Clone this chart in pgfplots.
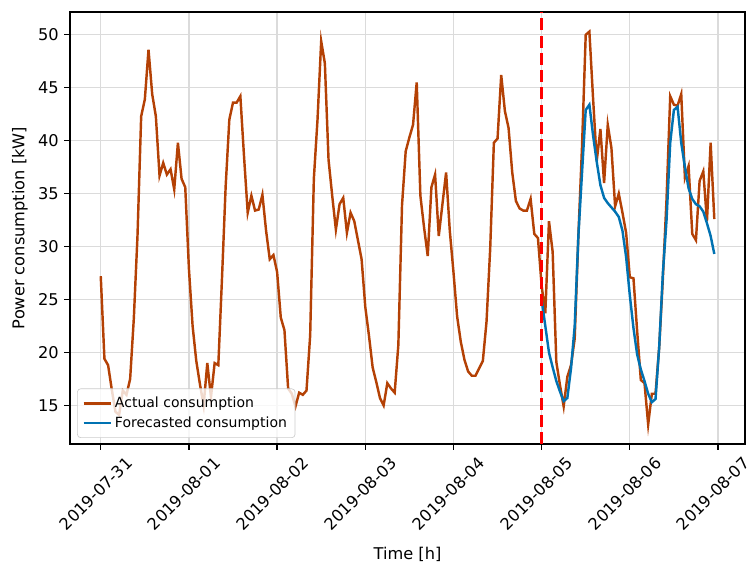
\documentclass[border=0pt]{standalone}
\usepackage{fontspec}
\setmainfont{DejaVu Sans}
\usepackage{pgfplots}
\pgfplotsset{compat=1.18}
\usepackage{pgfplotstable}
\usetikzlibrary{calc}
\definecolor{actual}{RGB}{180,65,5}
\definecolor{fcast}{RGB}{0,114,178}

\pgfplotstableread{
h actual
0 27.2
1 19.4
2 18.8
3 16.5
4 14.4
5 14.1
6 16.4
7 16.0
8 17.5
9 23.2
10 31.0
11 42.3
12 43.9
13 48.6
14 44.4
15 42.3
16 36.7
17 37.9
18 36.8
19 37.3
20 35.4
21 39.8
22 36.4
23 35.6
24 27.9
25 22.5
26 19.2
27 17.0
28 15.0
29 19.0
30 15.8
31 19.0
32 18.8
33 27.0
34 35.7
35 42.0
36 43.6
37 43.6
38 44.2
39 38.5
40 33.2
41 34.8
42 33.4
43 33.5
44 34.9
45 31.5
46 28.8
47 29.2
48 27.6
49 23.3
50 22.1
51 16.6
52 16.1
53 14.9
54 16.2
55 16.0
56 16.4
57 21.6
58 36.4
59 42.0
60 49.4
61 47.3
62 38.2
63 34.8
64 31.6
65 34.0
66 34.6
67 31.3
68 33.2
69 32.4
70 30.6
71 28.8
72 24.3
73 21.6
74 18.6
75 17.2
76 15.7
77 15.0
78 17.1
79 16.6
80 16.2
81 20.7
82 33.9
83 39.0
84 40.3
85 41.5
86 45.5
87 34.8
88 31.8
89 29.1
90 35.6
91 36.8
92 31.0
93 34.0
94 37.0
95 31.5
96 27.6
97 23.4
98 21.0
99 19.3
100 18.2
101 17.8
102 17.8
103 18.5
104 19.2
105 22.9
106 29.8
107 39.8
108 40.2
109 46.2
110 42.8
111 41.2
112 37.0
113 34.3
114 33.6
115 33.4
116 33.4
117 34.5
118 31.2
119 30.8
120 26.3
121 23.7
122 32.4
123 29.5
124 19.1
125 16.9
126 14.9
127 17.7
128 18.8
129 21.3
130 31.0
131 39.5
132 50.0
133 50.3
134 44.0
135 38.1
136 41.1
137 36.0
138 41.5
139 39.3
140 33.8
141 35.0
142 33.2
143 31.3
144 27.1
145 27.0
146 22.0
147 17.4
148 17.1
149 13.2
150 16.1
151 16.1
152 20.5
153 27.0
154 34.5
155 44.2
156 43.4
157 43.3
158 44.4
159 36.5
160 37.6
161 31.2
162 30.6
163 36.2
164 37.1
165 32.4
166 39.8
167 32.6
}\actualtable

\pgfplotstableread{
h fc
120 25.0
121 22.5
122 20.0
123 18.6
124 17.3
125 16.3
126 15.4
127 15.7
128 18.5
129 22.5
130 31.0
131 37.0
132 42.9
133 43.4
134 40.5
135 38.0
136 35.8
137 34.6
138 34.1
139 33.7
140 33.3
141 32.8
142 31.5
143 29.0
144 25.4
145 22.3
146 19.8
147 18.4
148 17.3
149 16.1
150 15.3
151 15.6
152 20.5
153 27.5
154 32.5
155 39.8
156 42.9
157 43.2
158 39.8
159 37.5
160 35.5
161 34.5
162 34.0
163 33.8
164 33.3
165 32.2
166 31.0
167 29.3
}\fctable

\begin{document}
\begin{tikzpicture}
\begin{axis}[name=ax,
  scale only axis, width=415.1bp, height=265.7bp,
  xmin=-8.35, xmax=175.35, ymin=11.35, ymax=52.15,
  xtick={0,24,48,72,96,120,144,168},
  xticklabels={2019-07-31,2019-08-01,2019-08-02,2019-08-03,2019-08-04,2019-08-05,2019-08-06,2019-08-07},
  ytick={15,20,25,30,35,40,45,50},
  tick align=outside, xtick pos=bottom, ytick pos=left,
  major tick length=3.5bp,
  tick style={black, line width=0.8bp},
  axis line style={line width=0.8bp},
  grid=major, major grid style={black!14, line width=0.8bp},
  /pgf/number format/assume math mode=true,
  xticklabel style={xshift=-3bp, yshift=-27bp, rotate=45, anchor=center},
  xlabel={Time [h]}, ylabel={Power consumption [kW]},
  xlabel style={at={(axis description cs:0.5,-0.256)}, anchor=center},
  ylabel style={at={(axis description cs:-0.0742,0.5)}, anchor=center},
  legend style={font=\fontsize{8.65}{10}\selectfont, at={(0.0104,0.014)}, anchor=south west,
    draw=black!20, rounded corners=2bp, fill=white, fill opacity=0.8, text opacity=1,
    row sep=0bp, inner sep=3bp},
  legend cell align=left,
  legend image code/.code={\draw[#1] (0bp,0bp) -- (16.6bp,0bp);},
]
\addplot[actual, line width=1.5bp] table[x=h, y=actual] {\actualtable};
\addlegendentry{Actual consumption}
\addplot[fcast, line width=1.5bp] table[x=h, y=fc] {\fctable};
\addlegendentry{Forecasted consumption}
\addplot[red, line width=2bp, dash pattern=on 7.4bp off 3.2bp, forget plot] coordinates {(120,11.35) (120,52.15)};
\end{axis}
\pgfresetboundingbox
\path[use as bounding box] ($(ax.south west)+(-43.1bp,-73.8bp)$) rectangle ($(ax.north east)+(3.7bp,7.4bp)$);
\end{tikzpicture}
\end{document}
